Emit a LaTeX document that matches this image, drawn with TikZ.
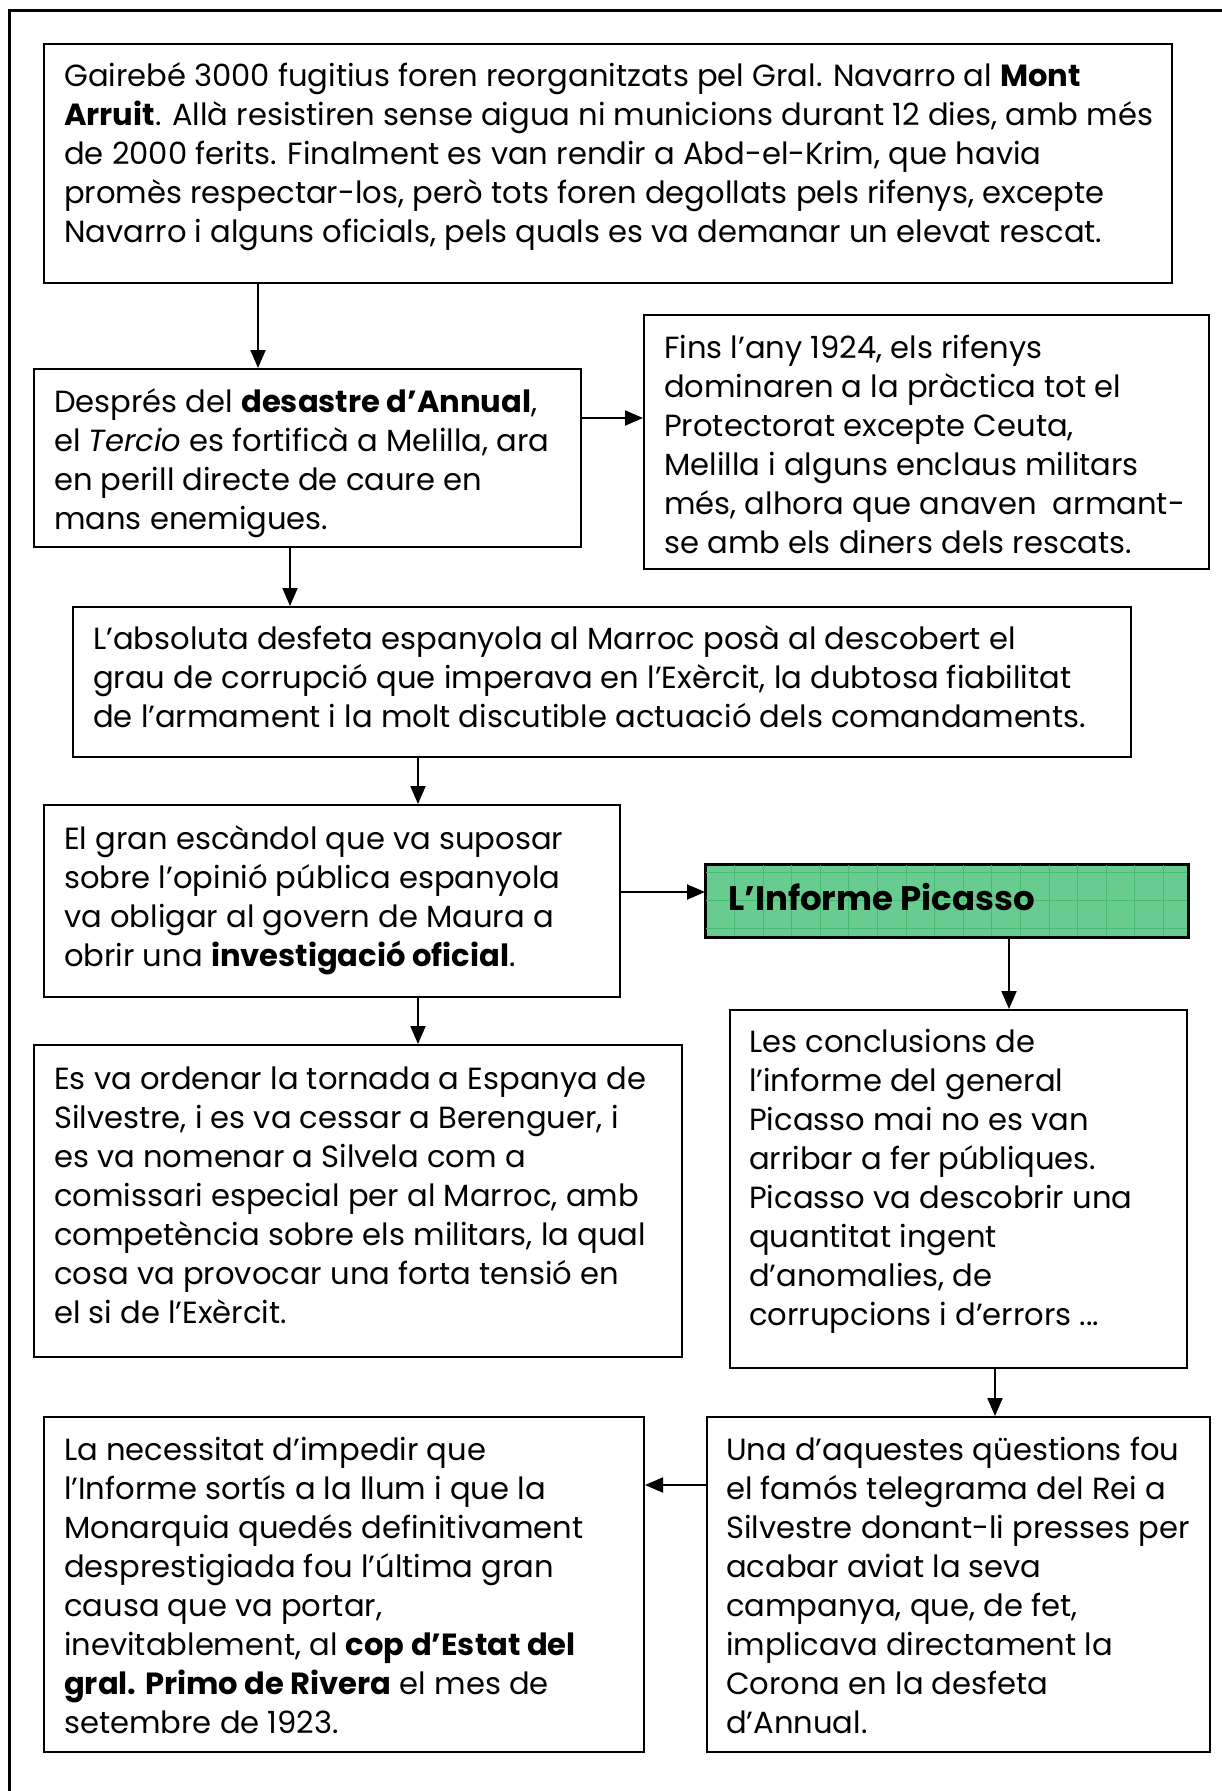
\documentclass[tikz,border=0pt]{standalone}
\usepackage{fontspec}
\setmainfont{Poppins}
\usetikzlibrary{arrows.meta}
\definecolor{picgreen}{RGB}{104,204,144}
\definecolor{gridgreen}{RGB}{72,186,116}
\begin{document}
\begin{tikzpicture}[x=1pt,y=-1pt,
  box/.style={draw=black, line width=2pt, rectangle, inner sep=0pt, anchor=north west},
  txt/.style={anchor=base west, inner sep=0pt, align=left, font=\fontsize{30.6}{39.1}\selectfont},
  conn/.style={line width=2pt, -{Triangle[length=18pt,width=15pt]}},
]
\useasboundingbox (0,0) rectangle (1221,1791);
% outer frame (top and left only)
\draw[line width=3pt] (9,1791) -- (9,10) -- (1222,10);

% boxes
\node[box, minimum width=1128pt, minimum height=239pt] (b1) at (43,43) {};
\node[box, minimum width=547pt, minimum height=178pt] (b2) at (33,368) {};
\node[box, minimum width=565pt, minimum height=254pt] (b3) at (643,314) {};
\node[box, minimum width=1058pt, minimum height=150pt] (b4) at (72,606) {};
\node[box, minimum width=576pt, minimum height=192pt] (b5) at (43,804) {};
\node[box, minimum width=482pt, minimum height=72pt, fill=picgreen] (g) at (705,864) {};
\begin{scope}
  \clip (705,864) rectangle (1187,936);
  \foreach \gx in {734.3,762.9,...,1190} \draw[gridgreen, line width=0.8pt] (\gx,864) -- (\gx,936);
  \foreach \gy in {872,900,928} \draw[gridgreen, line width=0.8pt] (705,\gy) -- (1187,\gy);
\end{scope}
\draw[line width=2pt] (g.north west) rectangle (g.south east);
\node[box, minimum width=648pt, minimum height=312pt] (b6) at (33,1044) {};
\node[box, minimum width=457pt, minimum height=358pt] (b7) at (729,1009) {};
\node[box, minimum width=503pt, minimum height=335pt] (b8) at (706,1416) {};
\node[box, minimum width=600pt, minimum height=335pt] (b9) at (43,1416) {};

% texts (anchor = baseline of the last line)
\node[txt] (t1) at (64,{86+4*39.1}) {Gairebé 3000 fugitius foren reorganitzats pel Gral. Navarro al \textbf{Mont}\\
\textbf{Arruit}. Allà resistiren sense aigua ni municions durant 12 dies, amb més\\
de 2000 ferits. Finalment es van rendir a Abd-el-Krim, que havia\\
promès respectar-los, però tots foren degollats pels rifenys, excepte\\
Navarro i alguns oficials, pels quals es va demanar un elevat rescat.};

\node[txt] (t2) at (54,{412+3*39.1}) {Després del \textbf{desastre d’Annual},\\
el \textit{Tercio} es fortificà a Melilla, ara\\
en perill directe de caure en\\
mans enemigues.};

\node[txt] (t3) at (664,{358+5*39.1}) {Fins l’any 1924, els rifenys\\
dominaren a la pràctica tot el\\
Protectorat excepte Ceuta,\\
Melilla i alguns enclaus militars\\
més, alhora que anaven\ \ armant-\\
se amb els diners dels rescats.};

\node[txt] (t4) at (93,{649+2*39.1}) {L’absoluta desfeta espanyola al Marroc posà al descobert el\\
grau de corrupció que imperava en l’Exèrcit, la dubtosa fiabilitat\\
de l’armament i la molt discutible actuació dels comandaments.};

\node[txt] (t5) at (64,{849+3*39.1}) {El gran escàndol que va suposar\\
sobre l’opinió pública espanyola\\
va obligar al govern de Maura a\\
obrir una \textbf{investigació oficial}.};

\node[anchor=base west, inner sep=0pt, font=\fontsize{34}{40}\selectfont\bfseries] (tg) at (728,910) {L’Informe Picasso};

\node[txt] (t6) at (54,{1089+6*39.1}) {Es va ordenar la tornada a Espanya de\\
Silvestre, i es va cessar a Berenguer, i\\
es va nomenar a Silvela com a\\
comissari especial per al Marroc, amb\\
competència sobre els militars, la qual\\
cosa va provocar una forta tensió en\\
el si de l’Exèrcit.};

\node[txt] (t7) at (749,{1052+7*39.1}) {Les conclusions de\\
l’informe del general\\
Picasso mai no es van\\
arribar a fer públiques.\\
Picasso va descobrir una\\
quantitat ingent\\
d’anomalies, de\\
corrupcions i d’errors ...};

\node[txt] (t8) at (726,{1460+7*39.1}) {Una d’aquestes qüestions fou\\
el famós telegrama del Rei a\\
Silvestre donant-li presses per\\
acabar aviat la seva\\
campanya, que, de fet,\\
implicava directament la\\
Corona en la desfeta\\
d’Annual.};

\node[txt] (t9) at (64,{1460+7*39.1}) {La necessitat d’impedir que\\
l’Informe sortís a la llum i que la\\
Monarquia quedés definitivament\\
desprestigiada fou l’última gran\\
causa que va portar,\\
inevitablement, al \textbf{cop d’Estat del}\\
\textbf{gral. Primo de Rivera} el mes de\\
setembre de 1923.};

% connector guide coordinates
\coordinate (x258) at (258,0);
\coordinate (x290) at (290,0);
\coordinate (x418) at (418,0);
\coordinate (x1009) at (1009,0);
\coordinate (x995) at (995,0);
\coordinate (y418) at (0,418);
\coordinate (y892) at (0,892);
\coordinate (y1485) at (0,1485);

% connectors
\draw[conn] (b1.south -| x258) -- (b2.north -| x258);
\draw[conn] (b2.east |- y418) -- (b3.west |- y418);
\draw[conn] (b2.south -| x290) -- (b4.north -| x290);
\draw[conn] (b4.south -| x418) -- (b5.north -| x418);
\draw[conn] (b5.east |- y892) -- (g.west |- y892);
\draw[conn] (b5.south -| x418) -- (b6.north -| x418);
\draw[conn] (g.south -| x1009) -- (b7.north -| x1009);
\draw[conn] (b7.south -| x995) -- (b8.north -| x995);
\draw[conn] (b8.west |- y1485) -- (b9.east |- y1485);
\end{tikzpicture}
\end{document}
